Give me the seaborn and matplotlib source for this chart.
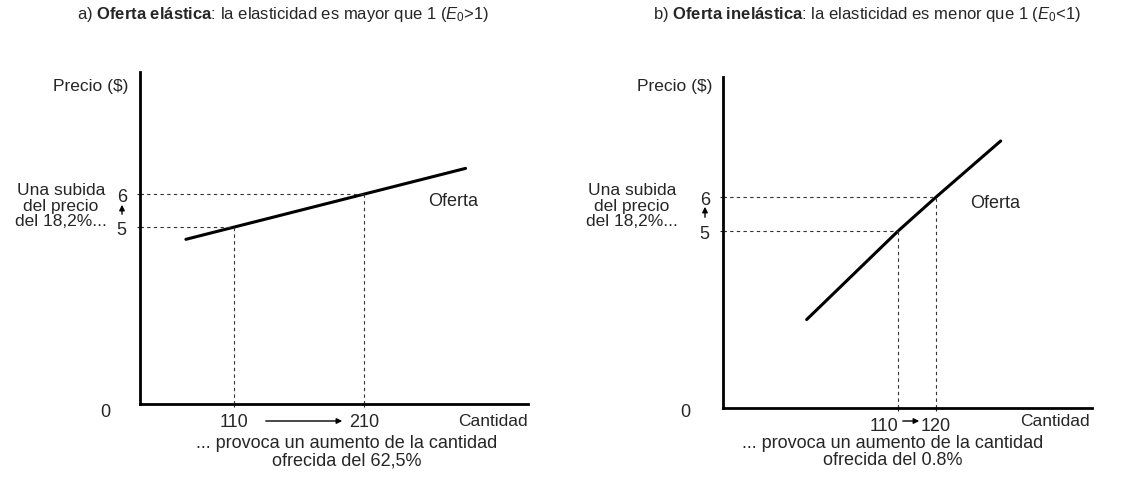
import pandas as pd
import matplotlib.pyplot as plt
import seaborn as sns

# supply curves (quantity, price)
qa_curve = [73, 110, 210, 288]
pa_curve = [4.63, 5, 6, 6.78]
qb_curve = [86, 110, 120, 137]
pb_curve = [2.4, 5, 6, 7.65]

# marked points on each curve
qa_marks = [110, 210]
qb_marks = [110, 120]
p_marks = [5, 6]
qa_labels = ["110", "210"]
qb_labels = ["110", "120"]
p_labels = ["5", "6"]

sns.set_theme(style="white")
plt.rcParams["font.family"] = ["Liberation Sans", "DejaVu Sans"]
plt.rcParams["mathtext.fontset"] = "custom"
plt.rcParams["mathtext.rm"] = "Liberation Sans"
plt.rcParams["mathtext.it"] = "Liberation Sans:italic"
plt.rcParams["mathtext.bf"] = "Liberation Sans:bold"

W, H = 1135, 485


def fx(x, y):
    # pixel position -> figure fraction
    return x / W, 1 - y / H


fig = plt.figure(figsize=(W / 100, H / 100), dpi=100)
fig.patch.set_facecolor("white")
ax_a = fig.add_axes([140 / W, 1 - 405 / H, 388 / W, 332 / H])
ax_b = fig.add_axes([723 / W, 1 - 409 / H, 369 / W, 331 / H])

panels = [
    (ax_a, qa_curve, pa_curve, qa_marks, qa_labels, (37.7, 336), (-0.36, 9.7)),
    (ax_b, qb_curve, pb_curve, qb_marks, qb_labels, (64, 161), (-0.2, 9.53)),
]

for ax, qc, pc, qm, ql, xl, yl in panels:
    df = pd.DataFrame({"Cantidad": qc, "Precio": pc})
    sns.lineplot(data=df, x="Cantidad", y="Precio", ax=ax, color="black",
                 lw=2.2, sort=False)
    for q, p in zip(qm, p_marks):
        ax.plot([xl[0], q], [p, p], color="#333333", lw=0.8, ls=(0, (3, 3)))
        ax.plot([q, q], [yl[0], p], color="#333333", lw=0.8, ls=(0, (3, 3)))
    ax.set_xlim(xl)
    ax.set_ylim(yl)
    ax.set_xticks(qm, labels=ql)
    ax.set_yticks(p_marks, labels=p_labels)
    ax.tick_params(axis="x", bottom=True, direction="inout", length=5,
                   width=0.8, labelsize=13, pad=4)
    ax.tick_params(axis="y", left=True, direction="inout", length=5,
                   width=0.8, labelsize=13, pad=7)
    ax.set_xlabel("")
    ax.set_ylabel("")
    for s in ["top", "right"]:
        ax.spines[s].set_visible(False)
    for s in ["left", "bottom"]:
        ax.spines[s].set_linewidth(2)
        ax.spines[s].set_color("black")
    ax.set_facecolor("white")

ax_b.get_xticklabels()[0].set_ha("right")

# titles
fig.text(*fx(283, 15), r"a) $\mathbf{Oferta\ elástica}$: la elasticidad es mayor que 1 ($E_0$>1)",
         ha="center", va="center", fontsize=12)
fig.text(*fx(867, 15), r"b) $\mathbf{Oferta\ inelástica}$: la elasticidad es menor que 1 ($E_0$<1)",
         ha="center", va="center", fontsize=12)

# left-side texts
for xp, xy0, xn in [(128, 61, 105), (712, 632, 685)]:
    fig.text(*fx(xp, 86), "Precio ($)", ha="right", va="center", fontsize=12.5)
    fig.text(*fx(xy0, 206), "Una subida\ndel precio\ndel 18,2%...", ha="center",
             va="center", fontsize=12.5, linespacing=1.02)
    fig.text(*fx(xn, 413), "0", ha="center", va="center", fontsize=13)

fig.text(*fx(528, 422), "Cantidad", ha="right", va="center", fontsize=12.5)
fig.text(*fx(1090, 422), "Cantidad", ha="right", va="center", fontsize=12.5)
fig.text(*fx(347, 452), "... provoca un aumento de la cantidad\nofrecida del 62,5%",
         ha="center", va="center", fontsize=13, linespacing=1.05)
fig.text(*fx(893, 452), "... provoca un aumento de la cantidad\nofrecida del 0.8%",
         ha="center", va="center", fontsize=13, linespacing=1.05)

# supply labels
ax_a.annotate("Oferta", xy=fx(428, 202), xycoords="figure fraction",
              ha="left", va="center", fontsize=13)
ax_b.annotate("Oferta", xy=fx(970, 203), xycoords="figure fraction",
              ha="left", va="center", fontsize=13)

# small arrows
arrow = dict(arrowstyle="-|>", lw=1.0, color="black", mutation_scale=8)
for start, end in [((122, 218), (122, 203)), ((705, 221), (705, 205)),
                   ((263, 422), (345, 422)), ((900, 422), (922, 422))]:
    fig.add_artist(plt.matplotlib.text.Annotation(
        "", xy=fx(*end), xycoords="figure fraction", xytext=fx(*start),
        textcoords="figure fraction", arrowprops=arrow))

fig.savefig("out.png", dpi=100, facecolor="white")
